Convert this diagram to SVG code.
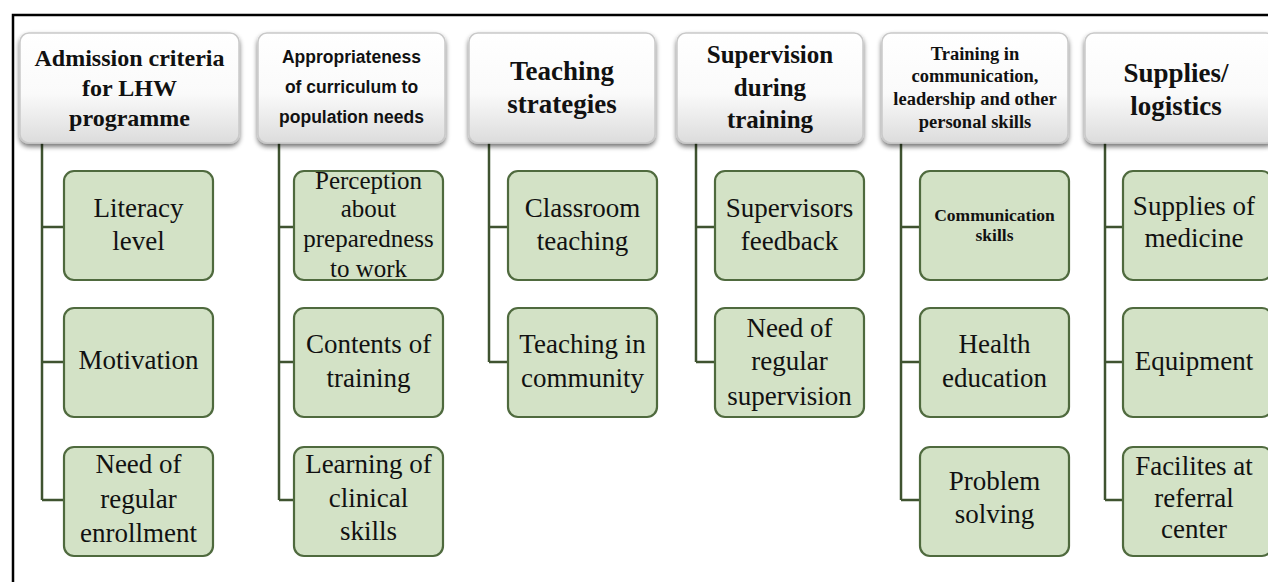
<svg xmlns="http://www.w3.org/2000/svg" width="1268" height="582" viewBox="0 0 1268 582">
<defs>
<linearGradient id="hg" x1="0" y1="0" x2="0" y2="1">
<stop offset="0" stop-color="#ffffff"/>
<stop offset="0.55" stop-color="#fafafa"/>
<stop offset="1" stop-color="#dcdcdc"/>
</linearGradient>
<filter id="sh" x="-10%" y="-10%" width="120%" height="130%">
<feGaussianBlur in="SourceAlpha" stdDeviation="2.5"/>
<feOffset dx="0" dy="3" result="b"/>
<feComponentTransfer><feFuncA type="linear" slope="0.55"/></feComponentTransfer>
<feMerge><feMergeNode/><feMergeNode in="SourceGraphic"/></feMerge>
</filter>
</defs>
<style>
.hdr{fill:url(#hg);stroke:#c9c9c9;stroke-width:1.5;filter:url(#sh)}
.ch{fill:#d3e2c6;stroke:#4f6a3e;stroke-width:2.2}
.ht{font-family:"Liberation Serif",serif;font-weight:bold;fill:#111;text-anchor:middle}
.hs{font-family:"Liberation Sans",sans-serif;font-weight:bold;fill:#111;text-anchor:middle}
.ct{font-family:"Liberation Serif",serif;fill:#111;text-anchor:middle;font-size:27px}
.con{stroke:#3f5330;stroke-width:2.5;fill:none}
</style>
<rect width="1268" height="582" fill="#ffffff"/>
<path d="M13 582 V15 H1268" fill="none" stroke="#000" stroke-width="2.5"/>

<g id="connectors">
<path class="con" d="M42 143 V500 M42 227 H64 M42 362 H64 M42 500 H64"/>
<path class="con" d="M279 143 V500 M279 227 H294 M279 362 H294 M279 500 H294"/>
<path class="con" d="M489 143 V362 M489 227 H508 M489 362 H508"/>
<path class="con" d="M696 143 V362 M696 227 H715 M696 362 H715"/>
<path class="con" d="M901 143 V500 M901 227 H920 M901 362 H920 M901 500 H920"/>
<path class="con" d="M1105 143 V500 M1105 227 H1123 M1105 362 H1123 M1105 500 H1123"/>
</g>

<g id="h1"><rect class="hdr" x="20" y="33" width="219" height="110" rx="9"/>
<text class="ht" font-size="24" x="129.5"><tspan x="129.5" y="66">Admission criteria</tspan><tspan x="129.5" y="96">for LHW</tspan><tspan x="129.5" y="126">programme</tspan></text></g>
<g id="h2"><rect class="hdr" x="258" y="33" width="187" height="110" rx="9"/>
<text class="hs" font-size="17.5"><tspan x="351.5" y="63">Appropriateness</tspan><tspan x="351.5" y="93">of curriculum to</tspan><tspan x="351.5" y="123">population needs</tspan></text></g>
<g id="h3"><rect class="hdr" x="469" y="33" width="186" height="110" rx="9"/>
<text class="ht" font-size="27"><tspan x="562" y="80">Teaching</tspan><tspan x="562" y="113">strategies</tspan></text></g>
<g id="h4"><rect class="hdr" x="677" y="33" width="186" height="110" rx="9"/>
<text class="ht" font-size="25"><tspan x="770" y="63">Supervision</tspan><tspan x="770" y="96">during</tspan><tspan x="770" y="128">training</tspan></text></g>
<g id="h5"><rect class="hdr" x="882" y="33" width="186" height="110" rx="9"/>
<text class="ht" font-size="18.5"><tspan x="975" y="60">Training in</tspan><tspan x="975" y="82">communication,</tspan><tspan x="975" y="105">leadership and other</tspan><tspan x="975" y="128">personal skills</tspan></text></g>
<g id="h6"><rect class="hdr" x="1085" y="33" width="190" height="110" rx="9"/>
<text class="ht" font-size="27"><tspan x="1176" y="82">Supplies/</tspan><tspan x="1176" y="115">logistics</tspan></text></g>

<g id="c1a"><rect class="ch" x="64" y="171" width="149" height="109" rx="10"/><text class="ct"><tspan x="138.5" y="217">Literacy</tspan><tspan x="138.5" y="250">level</tspan></text></g>
<g id="c1b"><rect class="ch" x="64" y="308" width="149" height="109" rx="10"/><text class="ct" x="138.5" y="369">Motivation</text></g>
<g id="c1c"><rect class="ch" x="64" y="447" width="149" height="109" rx="10"/><text class="ct"><tspan x="138.5" y="473">Need of</tspan><tspan x="138.5" y="508">regular</tspan><tspan x="138.5" y="542">enrollment</tspan></text></g>

<g id="c2a"><rect class="ch" x="294" y="171" width="149" height="109" rx="10"/><text class="ct" style="font-size:25px"><tspan x="368.5" y="189">Perception</tspan><tspan x="368.5" y="217">about</tspan><tspan x="368.5" y="247">preparedness</tspan><tspan x="368.5" y="277">to work</tspan></text></g>
<g id="c2b"><rect class="ch" x="294" y="308" width="149" height="109" rx="10"/><text class="ct"><tspan x="368.5" y="353">Contents of</tspan><tspan x="368.5" y="387">training</tspan></text></g>
<g id="c2c"><rect class="ch" x="294" y="447" width="149" height="109" rx="10"/><text class="ct"><tspan x="368.5" y="473">Learning of</tspan><tspan x="368.5" y="507">clinical</tspan><tspan x="368.5" y="540">skills</tspan></text></g>

<g id="c3a"><rect class="ch" x="508" y="171" width="149" height="109" rx="10"/><text class="ct"><tspan x="582.5" y="217">Classroom</tspan><tspan x="582.5" y="250">teaching</tspan></text></g>
<g id="c3b"><rect class="ch" x="508" y="308" width="149" height="109" rx="10"/><text class="ct"><tspan x="582.5" y="353">Teaching in</tspan><tspan x="582.5" y="387">community</tspan></text></g>

<g id="c4a"><rect class="ch" x="715" y="171" width="149" height="109" rx="10"/><text class="ct"><tspan x="789.5" y="217">Supervisors</tspan><tspan x="789.5" y="250">feedback</tspan></text></g>
<g id="c4b"><rect class="ch" x="715" y="308" width="149" height="109" rx="10"/><text class="ct"><tspan x="789.5" y="337">Need of</tspan><tspan x="789.5" y="370">regular</tspan><tspan x="789.5" y="405">supervision</tspan></text></g>

<g id="c5a"><rect class="ch" x="920" y="171" width="149" height="109" rx="10"/><text class="ct" style="font-size:17.5px;font-weight:bold"><tspan x="994.5" y="221">Communication</tspan><tspan x="994.5" y="241">skills</tspan></text></g>
<g id="c5b"><rect class="ch" x="920" y="308" width="149" height="109" rx="10"/><text class="ct"><tspan x="994.5" y="353">Health</tspan><tspan x="994.5" y="387">education</tspan></text></g>
<g id="c5c"><rect class="ch" x="920" y="447" width="149" height="109" rx="10"/><text class="ct"><tspan x="994.5" y="490">Problem</tspan><tspan x="994.5" y="523">solving</tspan></text></g>

<g id="c6a"><rect class="ch" x="1123" y="171" width="149" height="109" rx="10"/><text class="ct"><tspan x="1194" y="215">Supplies of</tspan><tspan x="1194" y="247">medicine</tspan></text></g>
<g id="c6b"><rect class="ch" x="1123" y="308" width="149" height="109" rx="10"/><text class="ct" x="1194" y="370">Equipment</text></g>
<g id="c6c"><rect class="ch" x="1123" y="447" width="149" height="109" rx="10"/><text class="ct"><tspan x="1194" y="475">Facilites at</tspan><tspan x="1194" y="507">referral</tspan><tspan x="1194" y="538">center</tspan></text></g>
</svg>
